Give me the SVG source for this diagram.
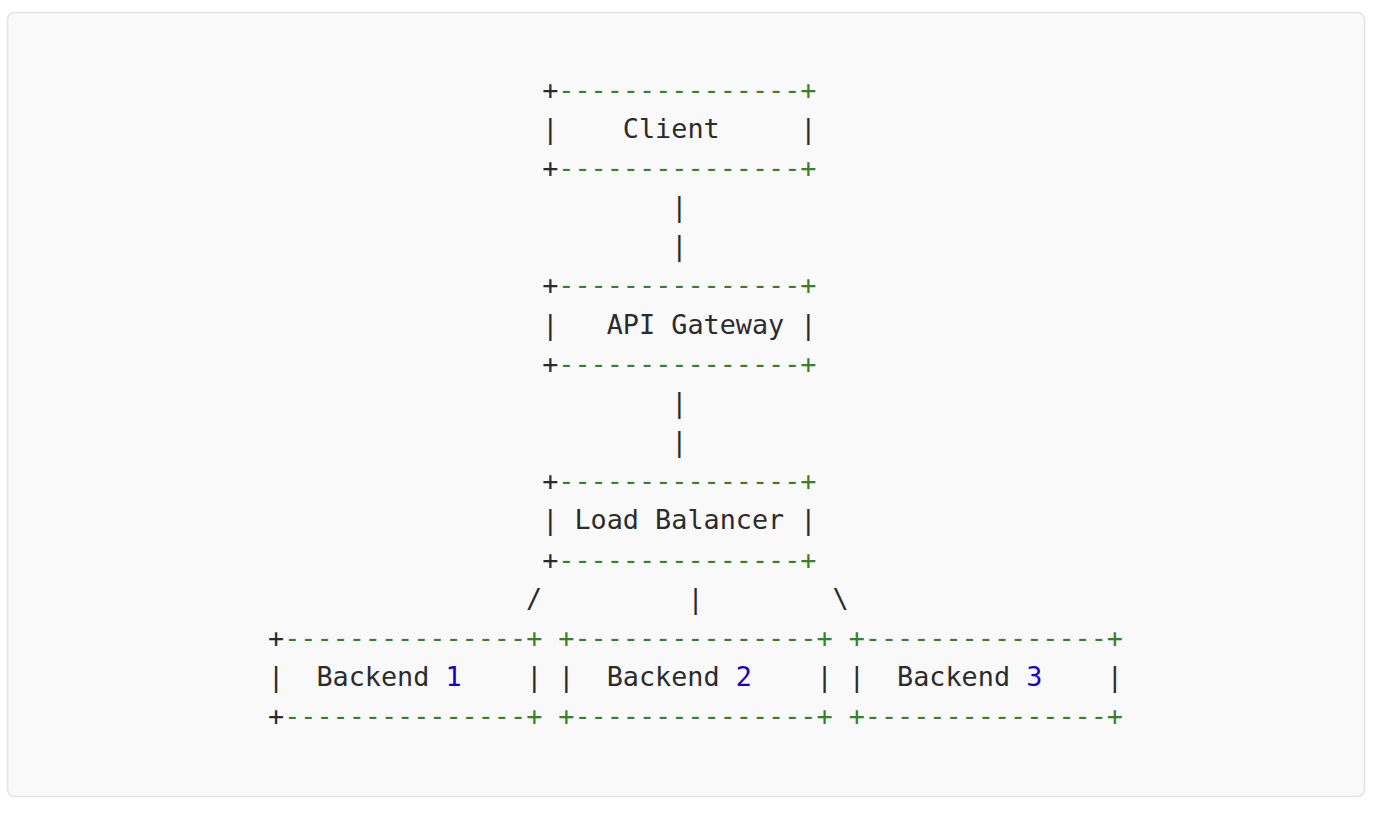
<svg xmlns="http://www.w3.org/2000/svg" width="1378" height="814" viewBox="0 0 1378 814">
<style>
text{font-family:"DejaVu Sans Mono","Liberation Mono",monospace;font-size:26.8px;fill:#2b2b2b;white-space:pre}
.g{fill:#3a7d2c}
.n{fill:#1a00cc}
</style>
<rect x="7.5" y="12.5" width="1357" height="784" rx="7" fill="#f9f9f9" stroke="#e3e3e3" stroke-width="1.5"/>
<g transform="translate(2,-2.5)">
<g id="client">
<text x="540.2" y="101" xml:space="preserve">+<tspan class="g">---------------+</tspan></text>
<text x="540.2" y="140.2" xml:space="preserve">|    Client     |</text>
<text x="540.2" y="179.4" xml:space="preserve">+<tspan class="g">---------------+</tspan></text>
</g>
<g id="api-gateway">
<text x="540.2" y="296.8" xml:space="preserve">+<tspan class="g">---------------+</tspan></text>
<text x="540.2" y="336" xml:space="preserve">|   API Gateway |</text>
<text x="540.2" y="375.2" xml:space="preserve">+<tspan class="g">---------------+</tspan></text>
</g>
<g id="load-balancer">
<text x="540.2" y="492.6" xml:space="preserve">+<tspan class="g">---------------+</tspan></text>
<text x="540.2" y="531.8" xml:space="preserve">| Load Balancer |</text>
<text x="540.2" y="571" xml:space="preserve">+<tspan class="g">---------------+</tspan></text>
</g>
<g id="backend-1">
<text x="266" y="649.4" xml:space="preserve">+<tspan class="g">---------------+</tspan></text>
<text x="266" y="688.6" xml:space="preserve">|  Backend <tspan class="n">1</tspan>    |</text>
<text x="266" y="727.8" xml:space="preserve">+<tspan class="g">---------------+</tspan></text>
</g>
<g id="backend-2">
<text x="556.3" y="649.4" xml:space="preserve" class="g">+---------------+</text>
<text x="556.3" y="688.6" xml:space="preserve">|  Backend <tspan class="n">2</tspan>    |</text>
<text x="556.3" y="727.8" xml:space="preserve" class="g">+---------------+</text>
</g>
<g id="backend-3">
<text x="846.7" y="649.4" xml:space="preserve" class="g">+---------------+</text>
<text x="846.7" y="688.6" xml:space="preserve">|  Backend <tspan class="n">3</tspan>    |</text>
<text x="846.7" y="727.8" xml:space="preserve" class="g">+---------------+</text>
</g>
<g id="connectors">
<text x="669.3" y="218.6">|</text>
<text x="669.3" y="257.8">|</text>
<text x="669.3" y="414.4">|</text>
<text x="669.3" y="453.6">|</text>
<text x="524.1" y="610.2">/</text>
<text x="685.4" y="610.2">|</text>
<text x="830.6" y="610.2">\</text>
</g>
</g>
</svg>
